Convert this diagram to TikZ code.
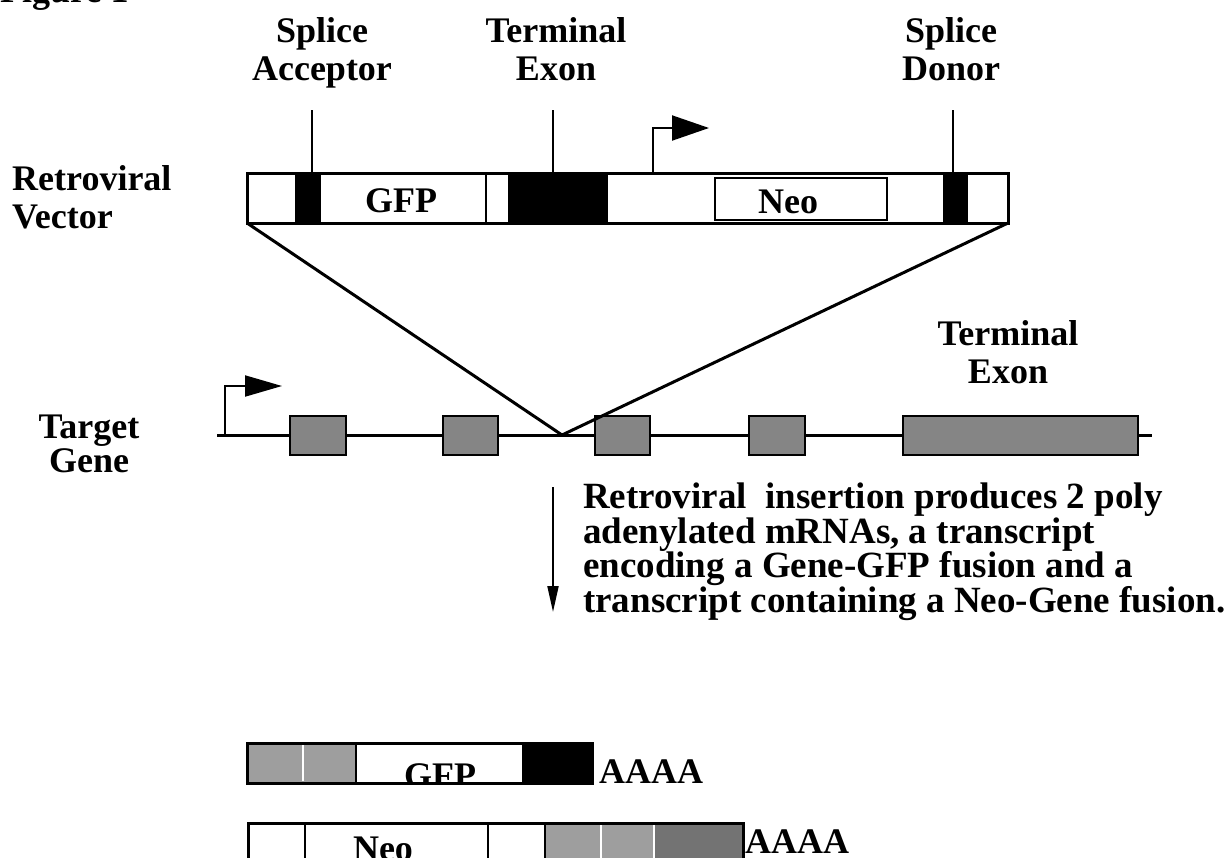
\documentclass[tikz,border=0pt]{standalone}
\usepackage{fontspec}
\setmainfont{Liberation Serif}
\usetikzlibrary{arrows.meta}

\definecolor{exongray}{gray}{0.52}
\definecolor{mrnagray}{gray}{0.62}
\definecolor{mrnadark}{gray}{0.45}

\begin{document}
\begin{tikzpicture}[x=1pt,y=1pt]
 	\tikzstyle{every node}+=[inner sep=0pt, font=\bfseries\fontsize{36}{38}\selectfont]
 	\tikzstyle{box}=[line width=3pt]
 	\tikzstyle{div}=[line width=2pt]
 	\tikzstyle{exon}=[draw=black, fill=exongray, line width=2.5pt]
 	\path [use as bounding box, fill=white] (0,0) rectangle (1230,-857);
 	\draw (0,-2) node [anchor=base west] (fig) {Figure 1};
 	% labels above the vector
 	\draw (322,-80) node [anchor=base, align=center] (sa) {Splice\\Acceptor};
 	\draw (556,-80) node [anchor=base, align=center] (te) {Terminal\\Exon};
 	\draw (951,-80) node [anchor=base, align=center] (sd) {Splice\\Donor};
 	\draw (12,-228) node [anchor=base west, align=left] (rv) {Retroviral\\Vector};
 	% retroviral vector
 	\fill [black] (295,-173) rectangle (321,-223);
 	\fill [black] (508,-173) rectangle (608,-223);
 	\fill [black] (943,-173) rectangle (968,-223);
 	\draw [div] (486,-173) -- (486,-223);
 	\draw [div] (715,-178) rectangle (887,-220);
 	\draw [box] (247,-173) rectangle (1008,-223);
 	\draw (401,-212) node [anchor=base] (gfp) {GFP};
 	\draw (788,-213) node [anchor=base] (neo) {Neo};
 	\draw [div] (312,-110) -- (312,-173);
 	\draw [div] (553,-110) -- (553,-173);
 	\draw [div] (953,-110) -- (953,-173);
 	\draw [div, -{Triangle[length=37pt,width=25pt]}] (653,-173) |- (709,-128);
 	\coordinate (vl) at (247,-223);
 	\coordinate (vr) at (1008,-223);
 	% target gene
 	\draw (89,-472) node [anchor=base, align=center] (tg) {Target\\[-4pt]Gene};
 	\draw (1008,-383) node [anchor=base, align=center] (tx) {Terminal\\Exon};
 	\draw [box] (217,-435) -- (1152,-435);
 	\draw [div, -{Triangle[length=37pt,width=21pt]}] (225,-435) |- (282,-386);
 	\draw [exon] (290,-416) rectangle (346,-455);
 	\draw [exon] (443,-416) rectangle (498,-455);
 	\draw [exon] (595,-416) rectangle (650,-455);
 	\draw [exon] (749,-416) rectangle (805,-455);
 	\draw [exon] (903,-416) rectangle (1138,-455);
 	\coordinate (ins) at (562,-435);
 	\draw [box] (vl) -- (ins) -- (vr);
 	% insertion
 	\coordinate (ar1) at (553,-487);
 	\coordinate (ar2) at (553,-612);
 	\draw [div, -{Triangle[length=26pt,width=11pt]}] (ar1) -- (ar2);
 	\draw (583,-612) node [anchor=base west, align=left, font=\bfseries\fontsize{37}{34.5}\selectfont] (txt)
 	  {Retroviral~~insertion produces 2 poly\\adenylated mRNAs, a transcript\\encoding a Gene-GFP fusion and a\\transcript containing a Neo-Gene fusion.};
 	% gene-GFP mRNA
 	\fill [mrnagray] (247,-743) rectangle (355,-783);
 	\fill [black] (522,-743) rectangle (592,-783);
 	\draw [white, line width=1.2pt] (303,-745) -- (303,-781);
 	\draw [div] (356,-743) -- (356,-783);
 	\begin{scope}
 	  \clip (356,-743) rectangle (522,-783);
 	  \draw (440,-787) node [anchor=base] (gfp2) {GFP};
 	\end{scope}
 	\draw [box] (247,-743) rectangle (592,-783);
 	\draw (599,-783) node [anchor=base west] (pa1) {AAAA};
 	% neo-gene mRNA
 	\fill [mrnagray] (545,-823) rectangle (655,-870);
 	\fill [mrnadark] (655,-823) rectangle (743,-870);
 	\draw [div] (305,-823) -- (305,-870);
 	\draw [div] (488,-823) -- (488,-870);
 	\draw [div] (545,-823) -- (545,-870);
 	\draw [white, line width=1.2pt] (601,-825) -- (601,-870);
 	\draw [white, line width=1.2pt] (654,-825) -- (654,-870);
 	\draw (383,-860) node [anchor=base] (neo2) {Neo};
 	\draw [box] (248,-823) rectangle (743,-868);
 	\draw (745,-853) node [anchor=base west] (pa2) {AAAA};
 	\end{tikzpicture}
\end{document}
